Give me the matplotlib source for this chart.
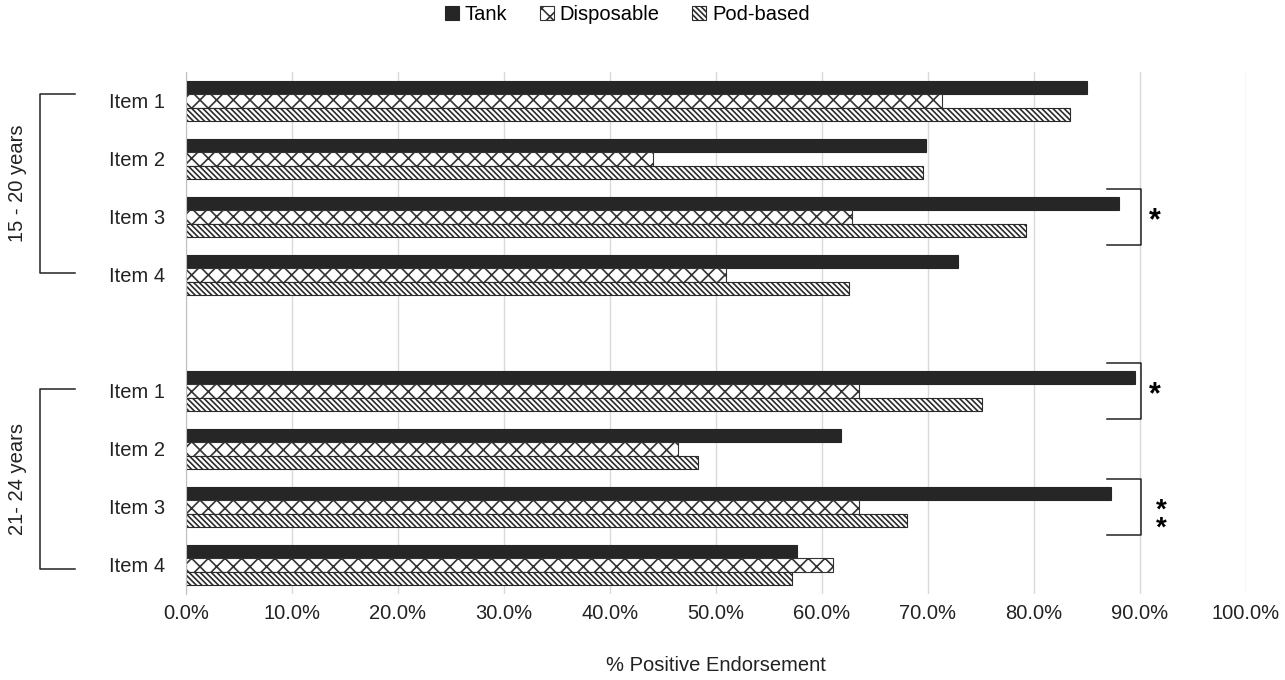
import numpy as np
import matplotlib
matplotlib.use('Agg')
import matplotlib.pyplot as plt
from matplotlib.ticker import PercentFormatter

plt.rcParams['font.family'] = ['Liberation Sans', 'DejaVu Sans']
plt.rcParams['hatch.linewidth'] = 1.2

items = ['Item 1', 'Item 2', 'Item 3', 'Item 4']
groups = ['15 - 20 years', '21- 24 years']
series = ['Tank', 'Disposable', 'Pod-based']

tank_15 = [85.0, 69.8, 88.0, 72.8]
disp_15 = [71.3, 44.1, 62.8, 50.9]
pod_15 = [83.4, 69.5, 79.2, 62.5]
tank_21 = [89.5, 61.8, 87.3, 57.6]
disp_21 = [63.5, 46.4, 63.5, 61.0]
pod_21 = [75.1, 48.3, 68.0, 57.2]

# significance marks: (group, item index, label)
sig = [(0, 2, '*'), (1, 0, '*'), (1, 2, '**')]

# slots: 4 items, one empty row, 4 items
pos = [np.arange(4), np.arange(5, 9)]
vals = [[tank_15, disp_15, pod_15], [tank_21, disp_21, pod_21]]

fig = plt.figure(figsize=(12.85, 6.8), dpi=100)
ax = fig.add_axes([186/1285, 1 - 594/680, 1060/1285, 522/680])

h = 0.23
styles = [dict(color='#262626', edgecolor='#262626', lw=0.8),
          dict(color='white', edgecolor='#333333', hatch='xx', lw=0.8),
          dict(color='white', edgecolor='#2a2a2a', hatch='\\\\\\\\\\\\', lw=0.8)]
offs = [-h, 0, h]

for g in range(2):
    for s in range(3):
        ax.barh(pos[g] + offs[s], vals[g][s], height=h,
                label=series[s] if g == 0 else None, **styles[s])

ax.set_xlim(0, 100)
ax.set_ylim(8.5, -0.5)
ax.set_yticks(np.concatenate(pos))
ax.set_yticklabels(items + items)
ax.xaxis.set_major_locator(plt.MultipleLocator(10))
ax.xaxis.set_major_formatter(PercentFormatter(decimals=1))
ax.tick_params(axis='both', length=0, labelsize=14.5, colors='#222222')
ax.tick_params(axis='y', pad=15)
ax.tick_params(axis='x', pad=7)
ax.grid(axis='x', color='#d9d9d9', lw=1)
ax.set_axisbelow(True)
for sp in ['top', 'right', 'bottom']:
    ax.spines[sp].set_visible(False)
ax.spines['left'].set_color('#bfbfbf')

ax.set_xlabel('% Positive Endorsement', fontsize=14.5, labelpad=24, color='#222222')

# left group brackets
brk = [(-0.12, 2.97), (4.97, 8.07)]
xl, xr = (40 - 186) / 10.6, (75 - 186) / 10.6
for (y0, y1), name in zip(brk, groups):
    ax.plot([xr, xl, xl, xr], [y0, y0, y1, y1], color='#222222', lw=1.1, clip_on=False)
    ax.text((17 - 186) / 10.6, (y0 + y1) / 2, name, rotation=90, ha='center', va='center',
            fontsize=14.5, color='#222222')

# right significance brackets
for g, i, lab in sig:
    yc = pos[g][i]
    ax.plot([86.9, 90.1, 90.1, 86.9], [yc - 0.49, yc - 0.49, yc + 0.49, yc + 0.49],
            color='#222222', lw=1.1, clip_on=False)
    if lab == '*':
        ax.text(91.4, yc + 0.08, '*', fontsize=22, fontweight='bold', ha='center', va='center')
    else:
        ax.text(92.0, yc + 0.22, '*\n*', fontsize=20, fontweight='bold', ha='center',
                va='center', linespacing=0.62)

fig.legend(loc='center', bbox_to_anchor=(0.488, 0.979), ncol=3, frameon=False,
           fontsize=14.5, handlelength=0.7, handleheight=0.7, handletextpad=0.3,
           columnspacing=1.6)

fig.savefig('out.png', dpi=100)
